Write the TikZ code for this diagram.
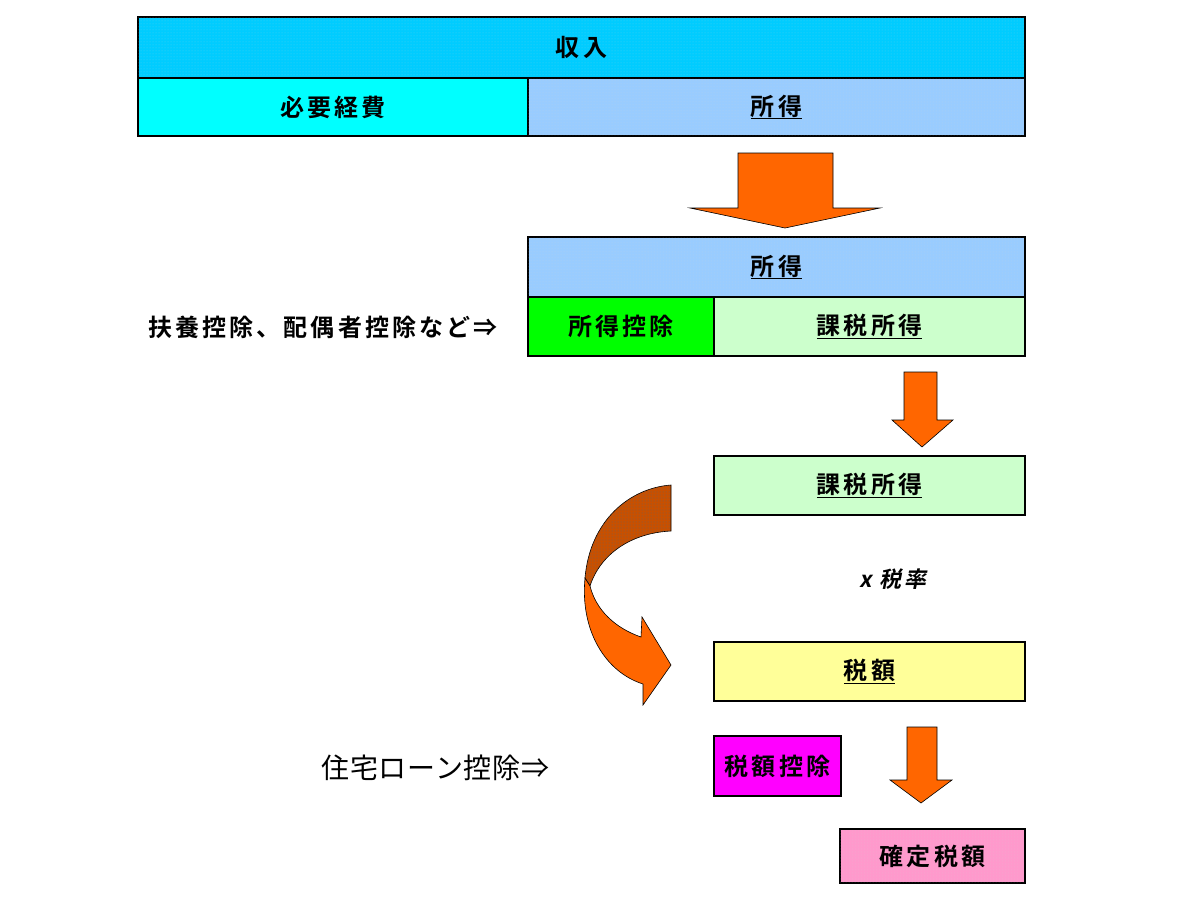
\documentclass[tikz,border=0pt]{standalone}
\usepackage{fontspec}
\newfontfamily\jp[LetterSpace=13]{Noto Sans CJK JP Bold}
\newfontfamily\jpreg[LetterSpace=3]{Noto Sans CJK JP}
\newfontfamily\jpit[FakeSlant=0.2,LetterSpace=13]{Noto Sans CJK JP Bold}
\usetikzlibrary{patterns}
\definecolor{cinc}{HTML}{00CCFF}
\definecolor{cexp}{HTML}{00FFFF}
\definecolor{cinco}{HTML}{99CCFF}
\definecolor{cded}{HTML}{00FF00}
\definecolor{ctax}{HTML}{CCFFCC}
\definecolor{camt}{HTML}{FFFF99}
\definecolor{ccred}{HTML}{FF00FF}
\definecolor{cfin}{HTML}{FF99CC}
\definecolor{corange}{HTML}{FF6600}
\definecolor{cdark}{HTML}{C85000}
\tikzset{
  box/.style={draw=black, line width=2pt, anchor=north west, inner sep=0pt,
    font=\jp\fontsize{24}{28}\selectfont, text=black},
  dotted fill/.style={postaction={pattern=dots, pattern color=white!85!black, opacity=0.35}},
  blockarrow/.style={fill=corange, draw=black, line width=0.6pt, line join=miter},
  lab/.style={font=\jp\fontsize{24}{28}\selectfont, text=black, inner sep=0pt}
}
\begin{document}
\begin{tikzpicture}[x=1pt,y=-1pt]
\useasboundingbox (0,0) rectangle (1200,900);
% top row
\node[box, fill=cinc, dotted fill, minimum width=887pt, minimum height=61pt] (inc) at (137,16) {収入};
\node[box, fill=cexp, minimum width=390pt, minimum height=58pt] (exp) at (137,77) {必要経費};
\node[box, fill=cinco, dotted fill, minimum width=497pt, minimum height=58pt] (inc1) at (527,77) {\underline{所得}};
% big arrow
\draw[blockarrow] (738,153) -- (833,153) -- (833,208) -- (880,208) -- (785,228) -- (690,208) -- (738,208) -- cycle;
% second row
\node[box, fill=cinco, dotted fill, minimum width=497pt, minimum height=60pt] (inc2) at (527,236) {\underline{所得}};
\node[box, fill=cded, minimum width=186pt, minimum height=59pt] (ded) at (527,296) {所得控除};
\node[box, fill=ctax, minimum width=311pt, minimum height=59pt] (tax1) at (713,296) {\underline{課税所得}};
\node[lab, anchor=west] (dedlab) at (148,327) {扶養控除、配偶者控除など⇒};
% arrow 2
\draw[blockarrow] (904,372) -- (937,372) -- (937,420) -- (953,420) -- (922,447) -- (892,420) -- (904,420) -- cycle;
\node[box, fill=ctax, minimum width=311pt, minimum height=59pt] (tax2) at (713,455) {\underline{課税所得}};
\node[lab, font=\jpit\fontsize{22}{26}\selectfont] (rate) at (893,579) {x 税率};
\node[box, fill=camt, minimum width=311pt, minimum height=59pt] (amt) at (713,641) {\underline{税額}};
\node[box, fill=ccred, minimum width=127pt, minimum height=60pt] (cred) at (713,735) {税額控除};
\node[lab, font=\jpreg\fontsize{28}{32}\selectfont, anchor=west] (credlab) at (321,768) {住宅ローン控除⇒};
% arrow 3
\draw[blockarrow] (907,727) -- (937,727) -- (937,780) -- (952,780) -- (921,803) -- (890,780) -- (907,780) -- cycle;
\node[box, fill=cfin, dotted fill, minimum width=185pt, minimum height=54pt] (fin) at (839,828) {確定税額};
% curved arrow
\draw[fill=cdark, draw=black, line width=0.6pt, postaction={pattern=dots, pattern color=black!60}]
  (671,485) .. controls (630,488) and (590,520) .. (585,578) -- (590,586)
  .. controls (600,555) and (630,533) .. (671,531) -- cycle;
\draw[fill=corange, draw=black, line width=0.6pt, line join=miter]
  (585,578) .. controls (580,630) and (605,672) .. (643,684) -- (643,705) -- (671,665) -- (642,617) -- (641,637)
  .. controls (615,628) and (596,610) .. (590,586) -- cycle;
\end{tikzpicture}
\end{document}
